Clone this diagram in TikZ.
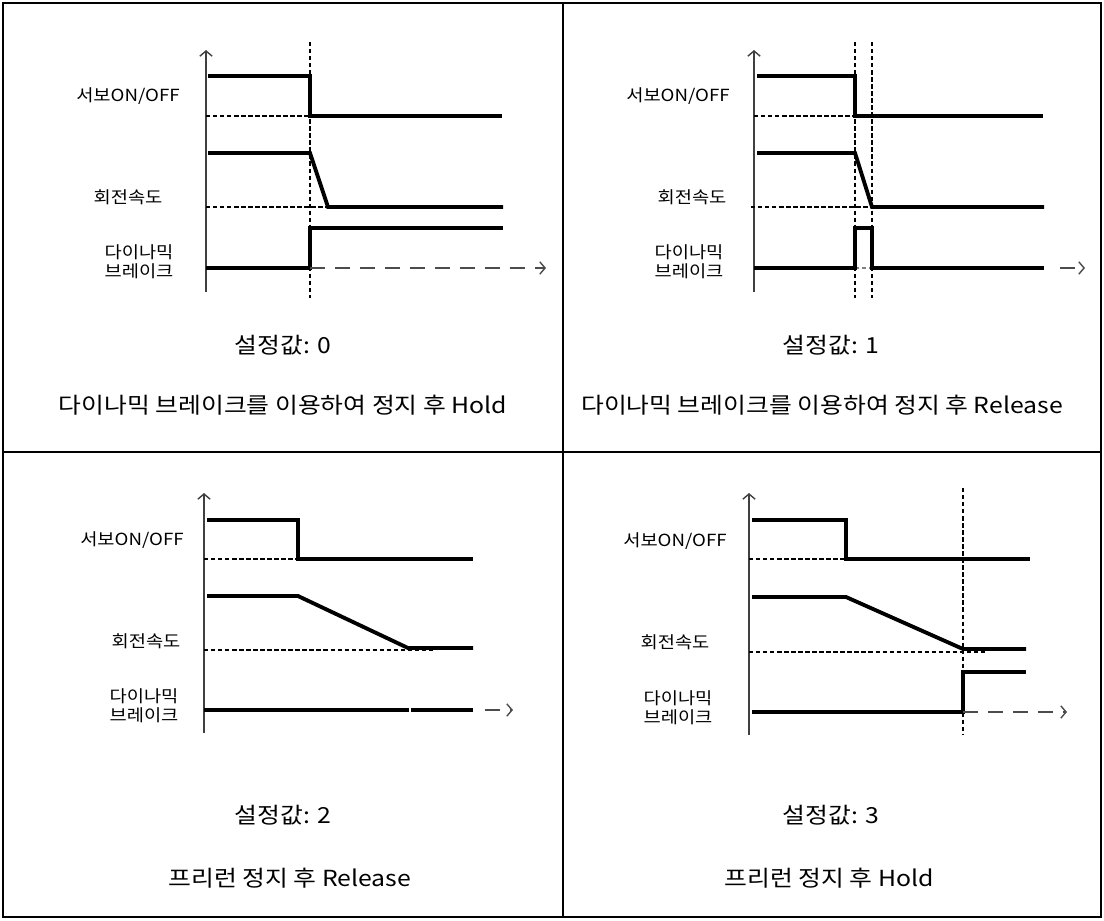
\documentclass[tikz,border=0pt]{standalone}
\usepackage{fontspec}
\setmainfont{Noto Sans CJK KR}[FakeStretch=1.12]
\usetikzlibrary{arrows.meta}

\begin{document}
\begin{tikzpicture}[x=0.02cm, y=-0.02cm,
                frame/.style={draw, line width=1.1pt},
                signal/.style={line width=2.2pt, line join=miter},
                axis/.style={line width=0.8pt, draw=black!75, -{Straight Barb[length=3pt,width=7pt]}},
                guide/.style={line width=0.6pt, dash pattern=on 2.5pt off 1.5pt},
                future/.style={line width=0.8pt, draw=black!70, dash pattern=on 8.5pt off 5.7pt, -{Straight Barb[length=3pt,width=7pt]}},
                sigtext/.style={font=\fontsize{9.5}{11}\selectfont, align=center, inner sep=0pt},
                captext/.style={font=\fontsize{12.6}{14}\selectfont, inner sep=0pt}
            ]
                \useasboundingbox (0,0) rectangle (1104,920);

                % Frame
                \draw[frame] (3,3) rectangle (1101,917);
                \draw[frame] (563,3) -- (563,917);
                \draw[frame, line width=1.5pt] (3,452) -- (1101,452);

                % Setting 0: dynamic brake, hold
                \draw[axis] (206,292) -- (206,50);
                \draw[guide] (310,42) -- (310,298);
                \draw[guide] (206,116) -- (310,116);
                \draw[guide] (206,207) -- (328,207);
                \draw[signal] (208,76) -- (310,76) -- (310,116) -- (502,116);
                \draw[signal] (208,153) -- (310,153) -- (328,207) -- (503,207);
                \draw[signal] (206,268) -- (310,268) -- (310,228) -- (503,228);
                \draw[future] (310,268) -- (546,268);

                \node[sigtext] (servoA) at (128,96) {서보ON/OFF};
                \node[sigtext] (speedA) at (128,197) {회전속도};
                \node[sigtext] (brakeA) at (139,262) {다이나믹\\브레이크};
                \node[captext] (setA) at (283,345) {설정값: 0};
                \node[captext] (descA) at (283,405) {다이나믹 브레이크를 이용하여 정지 후 Hold};

                % Setting 1: dynamic brake, release
                \draw[axis] (754,292) -- (754,50);
                \draw[guide] (855,42) -- (855,298);
                \draw[guide] (872,42) -- (872,298);
                \draw[guide] (754,116) -- (855,116);
                \draw[guide] (751,207) -- (872,207);
                \draw[guide, draw=black!50] (855,268) -- (872,268);
                \draw[signal] (757,76) -- (855,76) -- (855,116) -- (1043,116);
                \draw[signal] (757,153) -- (855,153) -- (872,207) -- (1044,207);
                \draw[signal] (754,268) -- (855,268) -- (855,228) -- (872,228) -- (872,268) -- (1044,268);
                \draw[future] (1060,268) -- (1085,268);

                \node[sigtext] (servoB) at (678,96) {서보ON/OFF};
                \node[sigtext] (speedB) at (692,197) {회전속도};
                \node[sigtext] (brakeB) at (689,262) {다이나믹\\브레이크};
                \node[captext] (setB) at (831,345) {설정값: 1};
                \node[captext] (descB) at (822,405) {다이나믹 브레이크를 이용하여 정지 후 Release};

                % Setting 2: free run, release
                \draw[axis] (204,733) -- (204,493);
                \draw[guide] (204,559) -- (298,559);
                \draw[guide] (204,650) -- (435,650);
                \draw[signal] (207,520) -- (298,520) -- (298,559) -- (473,559);
                \draw[signal] (207,596) -- (298,596) -- (408,648) -- (473,648);
                \draw[signal] (204,710) -- (409,710);
                \draw[signal] (411,710) -- (473,710);
                \draw[future] (485,710) -- (513,710);

                \node[sigtext] (servoC) at (132,540) {서보ON/OFF};
                \node[sigtext] (speedC) at (146,641) {회전속도};
                \node[sigtext] (brakeC) at (144,706) {다이나믹\\브레이크};
                \node[captext] (setC) at (283,815) {설정값: 2};
                \node[captext] (descC) at (290,878) {프리런 정지 후 Release};

                % Setting 3: free run, hold
                \draw[axis] (749,735) -- (749,493);
                \draw[guide] (963,488) -- (963,735);
                \draw[guide] (749,559) -- (846,559);
                \draw[guide] (749,652) -- (987,652);
                \draw[signal] (752,520) -- (846,520) -- (846,559) -- (1030,559);
                \draw[signal] (752,597) -- (846,597) -- (963,649) -- (1026,649);
                \draw[signal] (752,712) -- (963,712) -- (963,672) -- (1026,672);
                \draw[future] (963,712) -- (1067,712);

                \node[sigtext] (servoD) at (675,541) {서보ON/OFF};
                \node[sigtext] (speedD) at (675,642) {회전속도};
                \node[sigtext] (brakeD) at (678,708) {다이나믹\\브레이크};
                \node[captext] (setD) at (831,815) {설정값: 3};
                \node[captext] (descD) at (829,878) {프리런 정지 후 Hold};
            \end{tikzpicture}
\end{document}
